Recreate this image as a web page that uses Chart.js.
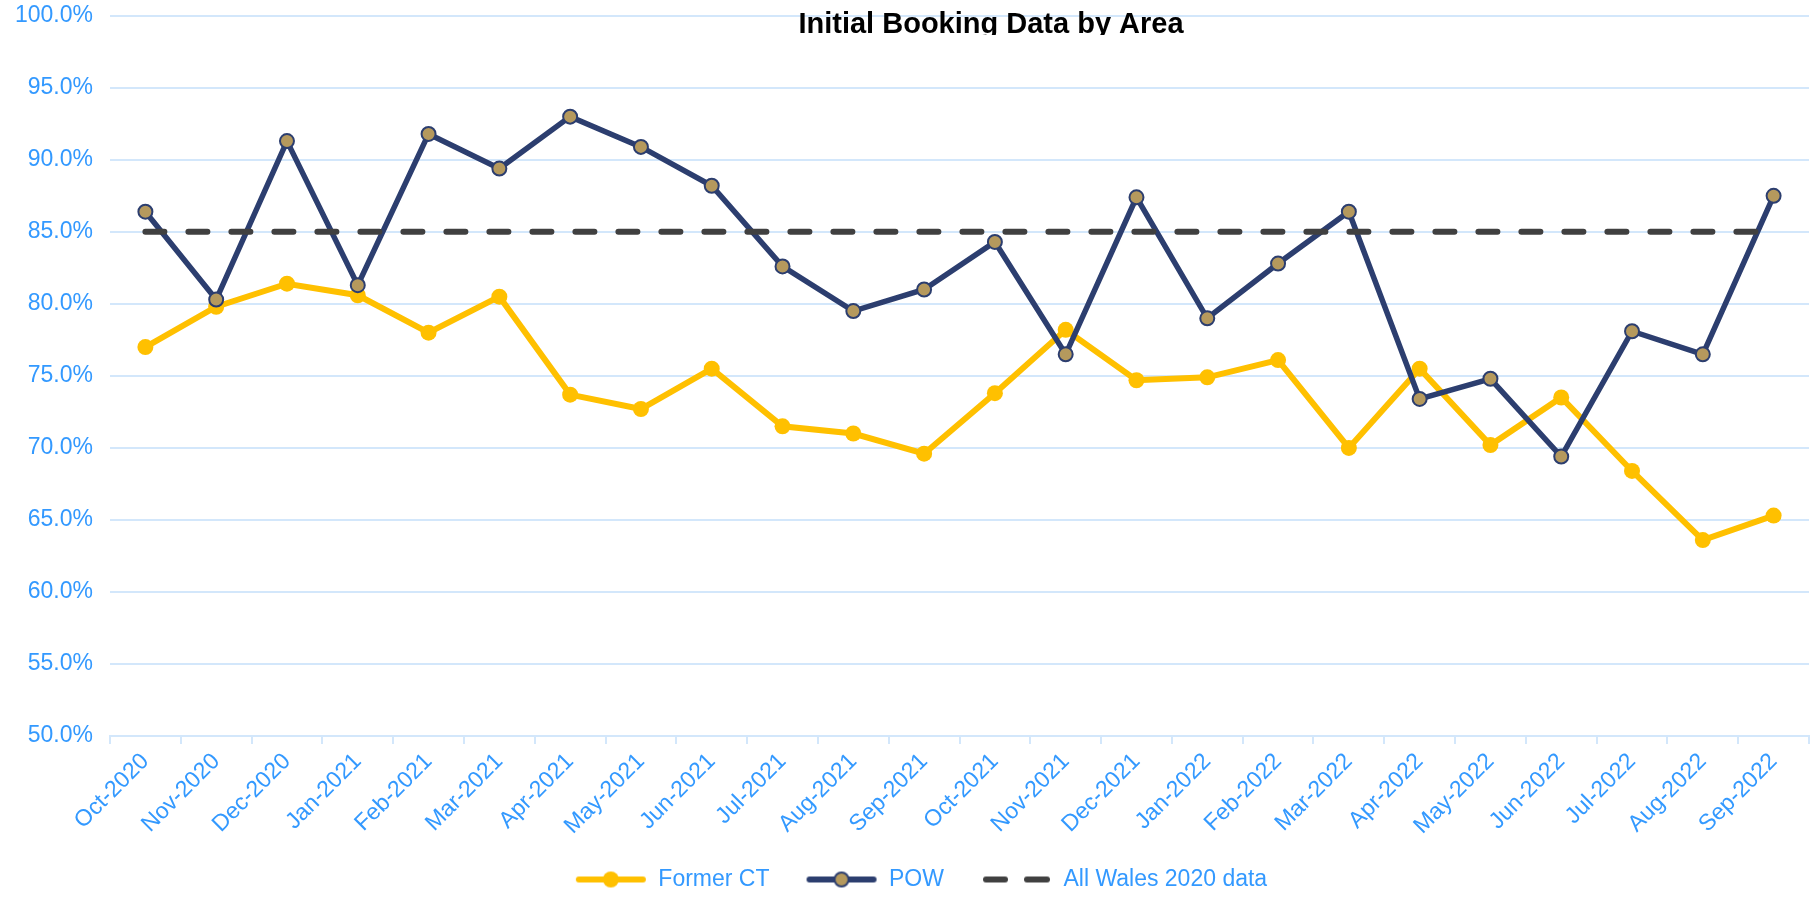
<!DOCTYPE html>
<html>
<head>
<meta charset="utf-8">
<title>Initial Booking Data by Area</title>
<script src="https://cdn.jsdelivr.net/npm/chart.js@4.4.0/dist/chart.umd.min.js"></script>
<style>
  html, body { margin: 0; padding: 0; background: #fff; }
  #wrap { width: 1818px; height: 901px; }
</style>
</head>
<body>
<div id="wrap"><canvas id="myChart"></canvas></div>
<script>
// data
const months = [
  'Oct-2020', 'Nov-2020', 'Dec-2020', 'Jan-2021', 'Feb-2021', 'Mar-2021',
  'Apr-2021', 'May-2021', 'Jun-2021', 'Jul-2021', 'Aug-2021', 'Sep-2021',
  'Oct-2021', 'Nov-2021', 'Dec-2021', 'Jan-2022', 'Feb-2022', 'Mar-2022',
  'Apr-2022', 'May-2022', 'Jun-2022', 'Jul-2022', 'Aug-2022', 'Sep-2022'
];
const formerCT = [
  77.0, 79.8, 81.4, 80.6, 78.0, 80.5, 73.7, 72.7, 75.5, 71.5, 71.0, 69.6,
  73.8, 78.2, 74.7, 74.9, 76.1, 70.0, 75.5, 70.2, 73.5, 68.4, 63.6, 65.3
];
const pow = [
  86.4, 80.3, 91.3, 81.3, 91.8, 89.4, 93.0, 90.9, 88.2, 82.6, 79.5, 81.0,
  84.3, 76.5, 87.4, 79.0, 82.8, 86.4, 73.4, 74.8, 69.4, 78.1, 76.5, 87.5
];
const allWales = [
  85, 85, 85, 85, 85, 85, 85, 85, 85, 85, 85, 85,
  85, 85, 85, 85, 85, 85, 85, 85, 85, 85, 85, 85
];
const yMin = 50, yMax = 100, yStep = 5;
const seriesNames = ['Former CT', 'POW', 'All Wales 2020 data'];
const titleText = 'Initial Booking Data by Area';

const yellow = '#ffc000';
const navy = '#2c3e6f';
const tan = '#b5995d';
const dashGrey = '#404040';
const labelBlue = '#3399ff';
const gridBlue = '#d3e7fb';
const fontFamily = '"Liberation Sans", Arial, sans-serif';

// legend icons: line with a marker, like the office-style legend
// (left part left empty so the items sit further apart)
function makeIcon(draw) {
  const c = document.createElement('canvas');
  c.width = 96; c.height = 20;
  const g = c.getContext('2d');
  g.translate(24, 0);
  draw(g);
  return c;
}
const legendIcons = [
  makeIcon(function(g) {
    g.strokeStyle = yellow; g.lineWidth = 6; g.lineCap = 'round';
    g.beginPath(); g.moveTo(4, 10); g.lineTo(68, 10); g.stroke();
    g.fillStyle = yellow; g.beginPath(); g.arc(36, 10, 8, 0, Math.PI * 2); g.fill();
  }),
  makeIcon(function(g) {
    g.strokeStyle = navy; g.lineWidth = 6; g.lineCap = 'round';
    g.beginPath(); g.moveTo(4, 10); g.lineTo(68, 10); g.stroke();
    g.fillStyle = tan; g.lineWidth = 2;
    g.beginPath(); g.arc(36, 10, 7, 0, Math.PI * 2); g.fill(); g.stroke();
  }),
  makeIcon(function(g) {
    g.strokeStyle = dashGrey; g.lineWidth = 6; g.lineCap = 'round';
    g.beginPath(); g.moveTo(6, 10); g.lineTo(25, 10); g.stroke();
    g.beginPath(); g.moveTo(47, 10); g.lineTo(67, 10); g.stroke();
  })
];

const clippedTitle = {
  id: 'clippedTitle',
  afterDraw(chart) {
    const ctx = chart.ctx;
    ctx.save();
    ctx.beginPath();
    ctx.rect(0, 0, chart.width, 35);
    ctx.clip();
    ctx.font = 'bold 29px ' + fontFamily;
    ctx.fillStyle = '#000';
    ctx.textAlign = 'center';
    ctx.textBaseline = 'alphabetic';
    ctx.fillText(titleText, 991, 33);
    ctx.restore();
  }
};

const ctx = document.getElementById('myChart').getContext('2d');
new Chart(ctx, {
  type: 'line',
  data: {
    labels: months,
    datasets: [{
      label: seriesNames[0],
      data: formerCT,
      borderColor: yellow,
      backgroundColor: yellow,
      borderWidth: 6,
      pointRadius: 8,
      pointBorderWidth: 0,
      pointBackgroundColor: yellow,
      tension: 0,
      order: 3
    }, {
      label: seriesNames[1],
      data: pow,
      borderColor: navy,
      backgroundColor: tan,
      borderWidth: 5.5,
      pointRadius: 7,
      pointBorderWidth: 2,
      pointBorderColor: navy,
      pointBackgroundColor: tan,
      tension: 0,
      order: 2
    }, {
      label: seriesNames[2],
      data: allWales,
      borderColor: dashGrey,
      backgroundColor: dashGrey,
      borderWidth: 6,
      borderDash: [19, 24],
      borderCapStyle: 'round',
      pointRadius: 0,
      tension: 0,
      order: 1
    }]
  },
  options: {
    responsive: true,
    maintainAspectRatio: false,
    animation: false,
    layout: {
      padding: { top: 0, right: 0, left: 0, bottom: 0 }
    },
    scales: {
      x: {
        offset: true,
        grid: {
          offset: true,
          drawOnChartArea: false,
          drawTicks: true,
          tickLength: 8,
          color: gridBlue,
          lineWidth: 2
        },
        border: { color: gridBlue, width: 2 },
        ticks: {
          color: labelBlue,
          font: { family: fontFamily, size: 23 },
          minRotation: 45,
          maxRotation: 45,
          autoSkip: false,
          padding: 4
        },
        afterFit: function(scale) { scale.height = 120; }
      },
      y: {
        min: yMin,
        max: yMax,
        grid: {
          color: gridBlue,
          lineWidth: 2,
          drawTicks: true,
          tickLength: 15,
          tickColor: 'rgba(0,0,0,0)'
        },
        border: { display: false },
        ticks: {
          stepSize: yStep,
          color: labelBlue,
          font: { family: fontFamily, size: 23 },
          padding: 2,
          callback: function(v) { return v.toFixed(1) + '%'; }
        },
        afterFit: function(scale) { scale.width = 110; }
      }
    },
    plugins: {
      title: { display: false },
      tooltip: { enabled: false },
      legend: {
        position: 'bottom',
        labels: {
          color: labelBlue,
          font: { family: fontFamily, size: 23 },
          usePointStyle: true,
          pointStyleWidth: 96,
          padding: 12,
          sort: function(a, b) { return a.datasetIndex - b.datasetIndex; },
          generateLabels: function(chart) {
            const items = Chart.defaults.plugins.legend.labels.generateLabels(chart);
            items.forEach(function(it) { it.pointStyle = legendIcons[it.datasetIndex]; });
            return items;
          }
        }
      }
    }
  },
  plugins: [clippedTitle]
});
</script>
</body>
</html>
